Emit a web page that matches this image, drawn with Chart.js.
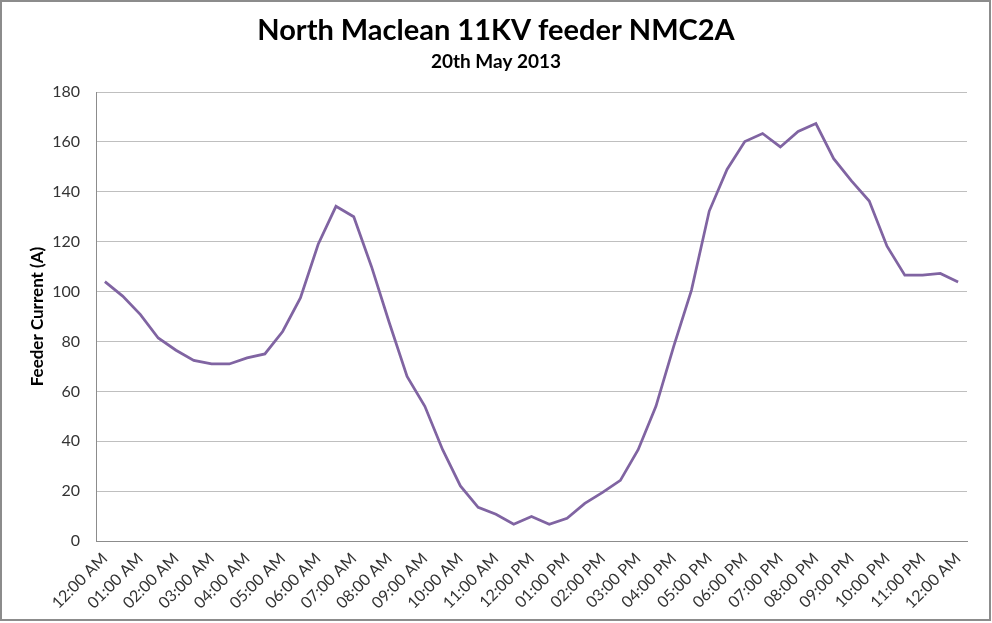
<!DOCTYPE html>
<html>
<head>
<meta charset="utf-8">
<script src="https://cdn.jsdelivr.net/npm/chart.js@4"></script>
<style>
  html, body { margin: 0; padding: 0; background: #fff; }
  #wrap { width: 992px; height: 623px; position: relative; }
</style>
</head>
<body>
<div id="wrap"><canvas id="chart"></canvas></div>
<script>
// half-hourly readings, 20th May 2013
const times = [
  "12:00 AM", "12:30 AM", "01:00 AM", "01:30 AM", "02:00 AM", "02:30 AM",
  "03:00 AM", "03:30 AM", "04:00 AM", "04:30 AM", "05:00 AM", "05:30 AM",
  "06:00 AM", "06:30 AM", "07:00 AM", "07:30 AM", "08:00 AM", "08:30 AM",
  "09:00 AM", "09:30 AM", "10:00 AM", "10:30 AM", "11:00 AM", "11:30 AM",
  "12:00 PM", "12:30 PM", "01:00 PM", "01:30 PM", "02:00 PM", "02:30 PM",
  "03:00 PM", "03:30 PM", "04:00 PM", "04:30 PM", "05:00 PM", "05:30 PM",
  "06:00 PM", "06:30 PM", "07:00 PM", "07:30 PM", "08:00 PM", "08:30 PM",
  "09:00 PM", "09:30 PM", "10:00 PM", "10:30 PM", "11:00 PM", "11:30 PM",
  "12:00 AM"
]

const feederCurrent = [
  104, 98.2, 90.8, 81.4, 76.5, 72.4, 71, 71, 73.4, 75, 84, 97.5,
  119, 134.2, 130, 110, 87.5, 66, 54, 36.6, 22.1, 13.5, 10.7, 6.7,
  9.8, 6.7, 9.1, 15.1, 19.5, 24.3, 36.6, 54, 78, 100.6, 132.3, 149,
  160.2, 163.4, 158, 164.2, 167.4, 153.3, 144.4, 136.3, 118.2, 106.6, 106.6, 107.3,
  103.9
]

// only the full hours get a label
const hourTicks = times.filter((t, i) => i % 2 === 0)

const FONT = "Lato, 'Open Sans', sans-serif"

// grey frame round the picture
const framePlugin = {
  id: "frame",
  afterDraw(chart) {
    const ctx = chart.ctx
    ctx.save()
    ctx.strokeStyle = "#8c8c8c"
    ctx.lineWidth = 2
    ctx.strokeRect(1, 1, chart.width - 3, chart.height - 4)
    ctx.restore()
  }
}

const ctx = document.getElementById("chart").getContext("2d")
new Chart(ctx, {
  type: "line",
  data: {
    labels: times,
    datasets: [{
      label: "Feeder Current (A)",
      data: feederCurrent,
      borderColor: "#8064A2",
      borderWidth: 2.75,
      pointRadius: 0,
      tension: 0,
      fill: false
    }]
  },
  options: {
    responsive: true,
    maintainAspectRatio: false,
    animation: false,
    // equal side padding keeps the title centred on the picture
    layout: { padding: { left: 25, right: 25, top: 0, bottom: 0 } },
    plugins: {
      legend: { display: false },
      tooltip: { enabled: false },
      title: {
        display: true,
        text: "North Maclean 11KV feeder NMC2A",
        color: "#000",
        font: { family: FONT, size: 29, weight: "bold" },
        padding: { top: 13, bottom: 3 }
      },
      subtitle: {
        display: true,
        text: "20th May 2013",
        color: "#000",
        font: { family: FONT, size: 19, weight: "bold" },
        padding: { top: 0, bottom: 18.5 }
      }
    },
    scales: {
      x: {
        offset: true,
        grid: { display: false, drawTicks: false },
        border: { display: true, color: "#8c8c8c", width: 1 },
        ticks: {
          autoSkip: false,
          maxRotation: 45,
          minRotation: 45,
          padding: 8,
          color: "#333",
          font: { family: FONT, size: 16 },
          callback(value, index) {
            return index % 2 === 0 ? hourTicks[index / 2] : ""
          }
        },
        afterFit(scale) { scale.height = 82 }
      },
      y: {
        min: 0,
        max: 180,
        ticks: {
          stepSize: 20,
          padding: 16,
          color: "#333",
          font: { family: FONT, size: 16 }
        },
        grid: { color: "#bfbfbf", lineWidth: 1, drawTicks: false },
        border: { display: true, color: "#8c8c8c", width: 1 },
        title: {
          display: true,
          text: "Feeder Current (A)",
          color: "#000",
          font: { family: FONT, size: 17, weight: "bold" },
          padding: { top: 2, bottom: 0 }
        },
        afterFit(scale) { scale.width = 71 }
      }
    }
  },
  plugins: [framePlugin]
})
</script>
</body>
</html>
